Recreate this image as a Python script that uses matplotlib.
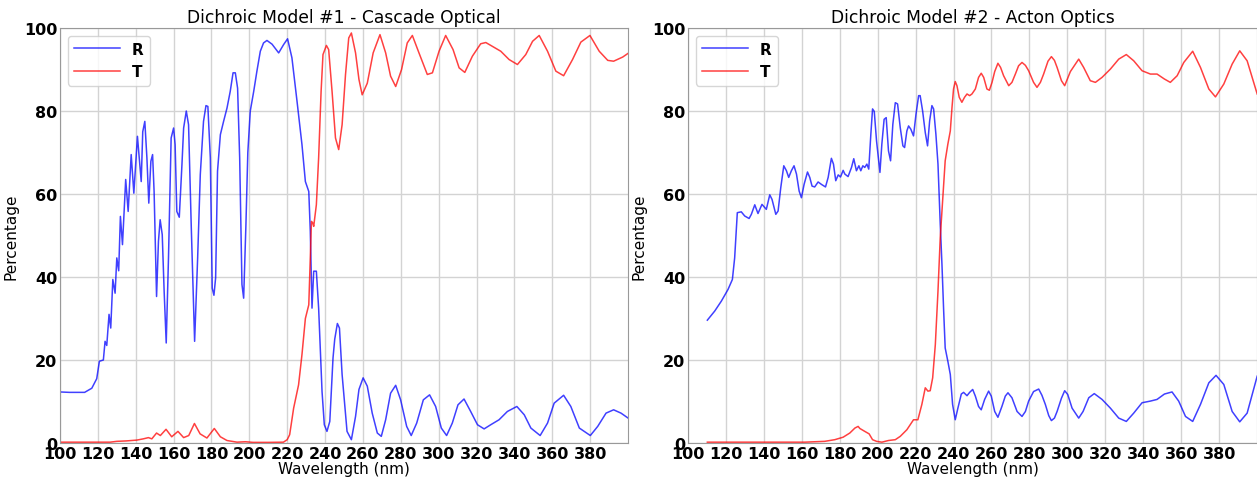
import numpy as np
import matplotlib
matplotlib.use('Agg')
import matplotlib.pyplot as plt

# (wavelength nm, percent) samples of each measured curve

# Model 1 - Cascade Optical, reflectance
r1_pts = [
    (100, 12.3), (105, 12.2), (110, 12.2), (113, 12.2), (116.8, 13.2), (119.4, 15.5), (120.8, 19.7),
    (122.9, 20), (123.8, 24.5), (124.7, 23.5), (125.9, 31), (126.8, 27.7), (127.9, 39.4), (129.1, 36.1),
    (130, 44.6), (131, 41.5), (131.9, 54.6), (133, 47.8), (134.7, 63.5), (136, 55.8), (137.6, 69.5),
    (139, 60.2), (140.9, 73.9), (142.9, 63), (143.7, 75), (144.8, 77.5), (145.9, 68.7), (146.9, 57.8),
    (148, 67.9), (148.9, 69.5), (149.7, 60.6), (151, 35.3), (152, 48.6), (152.9, 53.8), (154, 50.2),
    (155, 36.6), (156.1, 24.1), (157.3, 44.6), (158.7, 73.5), (160, 75.9), (160.8, 71.9), (161.7, 55.8),
    (163, 54.4), (164.4, 67), (165.3, 75.9), (166.7, 80), (167.9, 76.7), (169.3, 52.6), (171.1, 24.5),
    (172.7, 44.6), (174.1, 64.7), (175.8, 77.5), (177.1, 81.3), (178.1, 81.1), (179.4, 68.7),
    (180.4, 37.3), (181.3, 35.6), (182.2, 39.8), (183.2, 65.5), (184.7, 74.3), (186.4, 77.5),
    (188.2, 80.7), (189.9, 84.7), (191.4, 89.2), (192.6, 89.2), (193.8, 85.5), (194.9, 68.7),
    (196.1, 38.2), (197, 34.9), (198.2, 52.6), (199.2, 70), (200.5, 80), (202.3, 84.7), (204, 89.6),
    (205.8, 94.4), (207.5, 96.4), (209.3, 97), (212, 96.1), (215.5, 94), (218.1, 96), (220.2, 97.4),
    (222.5, 92.8), (225.2, 82.3), (227.8, 71.9), (229.6, 63), (231.4, 60.6), (232.2, 51), (233.1, 32.5),
    (234, 41.4), (235.4, 41.4), (236.6, 32.5), (238.4, 12.4), (239.6, 4.4), (241, 2.8), (242.5, 5.2),
    (244.2, 20.5), (245.1, 25), (246.5, 28.8), (247.6, 27.7), (249, 16.5), (251.6, 2.8), (253.9, 0.8),
    (256.1, 6.4), (257.9, 12.9), (260.1, 15.7), (262.3, 13.7), (264.9, 7.2), (267.6, 2.4), (269.7, 1.6),
    (272, 5.6), (274.6, 12), (277.3, 13.9), (279.9, 10.4), (283.1, 4), (285.5, 1.8), (288.4, 4.8),
    (291.9, 10.4), (295.2, 11.6), (298.4, 8.8), (301.4, 3.6), (304.2, 1.8), (307.2, 4.8), (310.2, 9.2),
    (313.4, 10.6), (316.9, 7.6), (320.5, 4.4), (324, 3.4), (327.5, 4.4), (331.9, 5.6), (336.3, 7.6),
    (341.3, 8.8), (345.2, 6.8), (348.7, 3.6), (353.6, 1.8), (357.5, 4.8), (361, 9.6), (366, 11.5),
    (369.8, 8.8), (374.3, 3.6), (380.1, 1.8), (384, 4), (388.4, 7.2), (392.4, 8), (396.3, 7.2),
    (400.7, 5.8),
]

# Model 1 - Cascade Optical, transmittance
t1_pts = [
    (100, 0.2), (126.5, 0.2), (130, 0.4), (135, 0.5), (140.6, 0.7), (144, 1), (146.7, 1.3), (148.5, 1.0),
    (151, 2.4), (153, 1.8), (156, 3.3), (159, 1.5), (162.3, 2.8), (165.3, 1.3), (168, 1.8), (171, 4.7),
    (174, 2.2), (177.6, 1.2), (181.5, 3.5), (184.7, 1.5), (188.2, 0.6), (193.5, 0.2), (197.9, 0.3),
    (202, 0.15), (210, 0.15), (218, 0.2), (220, 0.8), (221.3, 2), (223.4, 8.4), (226, 14), (227.8, 21.3),
    (229.6, 30), (231.4, 33.3), (232.2, 44.6), (232.8, 53.4), (233.5, 53), (234, 52.2), (235.4, 57.4),
    (236.6, 68.7), (237.9, 84.7), (238.9, 93.6), (240.7, 95.8), (241.9, 94.8), (243.7, 84.7),
    (245.5, 73.5), (247.2, 70.7), (249, 76.7), (250.8, 88.8), (252.5, 97.6), (253.9, 98.8),
    (256.1, 94), (257.9, 87.6), (259.6, 83.9), (262.3, 86.7), (265.4, 94), (269, 98.4), (272, 94),
    (274.6, 88.4), (277.3, 85.9), (280.4, 90), (283.4, 96.4), (286.1, 98.2), (289.6, 94), (294, 88.8),
    (296.7, 89.2), (300.2, 94.4), (303.7, 98.2), (307.6, 94.8), (310.8, 90.4), (313.8, 89.3),
    (317.8, 93.2), (322.2, 96.2), (324.9, 96.5), (332.8, 94.4), (337.2, 92.4), (341.6, 91.2),
    (346, 93.6), (349.6, 96.8), (353.1, 98.2), (357.5, 94.4), (361.9, 89.6), (366, 88.5), (370.7, 92.4),
    (375.1, 96.6), (379.9, 98.2), (384.8, 94.4), (389.3, 92.2), (392.4, 92), (397.2, 93), (400.7, 94.1),
]

# Model 2 - Acton Optics, reflectance
r2_pts = [
    (110.2, 29.6), (114.1, 31.8), (117.6, 34.2), (121.1, 37), (123.4, 39.4), (124.6, 44.6), (126, 55.5),
    (128.1, 55.7), (129.9, 54.7), (132.2, 54.1), (133.4, 55.1), (135.2, 57.4), (136.9, 55.3),
    (139, 57.5), (141.3, 56.3), (143.1, 59.8), (144.3, 58.7), (146.3, 55.1), (147.5, 55.9),
    (148.9, 61.5), (150.5, 66.8), (151.9, 65.6), (153.1, 64), (154.5, 65.6), (155.9, 66.8),
    (157.2, 64.8), (158.6, 60.7), (159.8, 59.1), (161.2, 62.3), (163, 65.3), (164.2, 64),
    (165.4, 61.9), (166.8, 61.7), (168.6, 62.9), (170.4, 62.3), (172.5, 61.7), (173.9, 64),
    (175.6, 68.6), (176.7, 67.2), (177.9, 63.2), (179.2, 64.6), (180.4, 64.1), (181.8, 65.7),
    (182.7, 64.8), (184.4, 64.2), (186.2, 66.4), (187.4, 68.5), (188.8, 65.6), (190.1, 66.8),
    (191.1, 65.6), (192.2, 66.8), (193.2, 66.4), (194.3, 67.2), (195.3, 66), (196.4, 74.4),
    (197.3, 80.5), (198.2, 79.9), (199.4, 72.8), (201.2, 65.2), (202.2, 72), (203.4, 78),
    (204.5, 78.4), (205.7, 70.4), (206.8, 68), (208, 76.8), (209.3, 82), (210.5, 81.7), (211.9, 76),
    (213.3, 71.6), (214.2, 71.2), (215.4, 75.2), (216.3, 76.4), (217.5, 75.6), (218.9, 74),
    (220.2, 79.2), (221.6, 83.7), (222.4, 83.7), (223.7, 80), (225.1, 74.8), (226.3, 71.6),
    (227.4, 77.6), (228.6, 81.3), (229.5, 80.5), (230.7, 74.4), (231.8, 67.2), (233, 52.7),
    (233.9, 43), (234.8, 31.8), (235.6, 22.9), (237, 19.7), (238.3, 16.5), (239.5, 9.3), (240.9, 5.6),
    (242.3, 8.4), (244.1, 11.8), (245.3, 12.2), (247.1, 11.4), (248.5, 12.2), (250.1, 12.9),
    (251.5, 11.3), (253.2, 8.8), (254.6, 8), (256.4, 10.5), (258.5, 12.5), (259.9, 11.3),
    (261.7, 7.6), (263.4, 6.2), (265.5, 8.8), (267.3, 11.3), (268.7, 12.1), (270.8, 10.9),
    (273.5, 7.6), (276.1, 6.4), (277.9, 7.6), (279.6, 10.1), (282.2, 12.4), (284.9, 13), (286.6, 11.5),
    (288.4, 9.3), (290.2, 6.6), (291.6, 5.4), (293.2, 6), (294.6, 7.6), (296.9, 10.8), (298.6, 12.6),
    (300.2, 11.7), (302.5, 8.4), (306, 6), (308.3, 7.6), (311.3, 10.9), (314.2, 11.9), (318.3, 10.5),
    (322.7, 8.4), (327.1, 6), (331.1, 5.2), (335, 7.2), (339.4, 9.7), (343.8, 10.1), (347.3, 10.5),
    (351.2, 11.8), (355.2, 12.3), (358.7, 10.1), (362.3, 6.4), (366.1, 5.2), (370.2, 9.3),
    (374.6, 14.5), (378.4, 16.3), (382.5, 14.1), (386.9, 7.6), (390.9, 5.1), (394.8, 7.2),
    (400.1, 16.1),
]

# Model 2 - Acton Optics, transmittance
t2_pts = [
    (110.2, 0.2), (140, 0.2), (161.6, 0.2), (172.1, 0.4), (177.4, 0.8), (181.8, 1.4), (185.3, 2.4),
    (188, 3.6), (189.7, 4), (190.6, 3.5), (193.2, 2.8), (195.5, 2.2), (197.3, 0.8), (199.4, 0.4),
    (202.2, 0.2), (205.7, 0.6), (209.3, 0.8), (211.9, 1.6), (215.4, 3.2), (218.9, 5.6), (221.2, 5.6),
    (223.3, 9.3), (225.1, 13.3), (226.5, 12.5), (227.7, 12.6), (229, 15.7), (230.4, 23.7),
    (231.8, 36.6), (233, 49.5), (233.9, 55.9), (234.8, 62.3), (235.6, 68), (237, 72), (238.3, 75.2),
    (239.2, 80.9), (240, 85.3), (240.9, 87.1), (241.8, 86.1), (243, 83.3), (244.4, 82.1),
    (245.8, 83.3), (247.1, 84.1), (248.5, 83.7), (249.7, 84.1), (251.5, 85.3), (253.2, 88.1),
    (254.6, 89.1), (255.9, 88.1), (257.6, 85.3), (258.9, 85), (260.3, 86.9), (261.7, 89.5),
    (263.4, 91.5), (264.8, 90.5), (266.4, 88.5), (269.1, 86.1), (270.8, 86.9), (272.6, 88.9),
    (274.3, 90.9), (276.1, 91.7), (277.9, 91), (279.6, 89.7), (282.2, 86.9), (284, 85.7),
    (285.8, 86.9), (287.5, 88.9), (289.8, 92), (291.6, 93.1), (293.2, 92.2), (294.6, 90.5),
    (296.9, 87.3), (298.6, 86.1), (301.6, 89.5), (306, 92.5), (308.6, 90.5), (312.1, 87.3),
    (314.8, 86.9), (318.3, 88.1), (322.7, 90.1), (327.1, 92.5), (331.1, 93.6), (335, 92.1),
    (339.4, 89.7), (343.8, 88.9), (347.3, 88.9), (351.2, 87.7), (354.3, 86.9), (357.9, 88.5),
    (361.4, 91.7), (366.1, 94.4), (370.2, 90.5), (374.6, 85.3), (378.1, 83.4), (382.5, 86.5),
    (386.9, 91.3), (390.9, 94.5), (394.8, 92.1), (400.1, 84.1),
]

titles = ['Dichroic Model #1 - Cascade Optical', 'Dichroic Model #2 - Acton Optics']
panels = [(r1_pts, t1_pts), (r2_pts, t2_pts)]

fig = plt.figure(figsize=(12.57, 4.81), dpi=100)
axes = [fig.add_axes([60 / 1257, 37 / 481, 568 / 1257, 415 / 481]),
        fig.add_axes([688 / 1257, 37 / 481, 569 / 1257, 415 / 481])]

for ax, title, (r_pts, t_pts) in zip(axes, titles, panels):
    wl_r, r = zip(*r_pts)
    wl_t, t = zip(*t_pts)
    ax.plot(wl_r, r, color='b', alpha=0.75, lw=1.1, label='R')
    ax.plot(wl_t, t, color='r', alpha=0.75, lw=1.1, label='T')
    ax.set_xlim(100, 400)
    ax.set_ylim(0, 100)
    ax.set_xticks(np.arange(100, 400, 20))
    ax.set_yticks(np.arange(0, 101, 20))
    ax.grid(True, color='#d3d3d3', lw=1.0)
    ax.set_axisbelow(True)
    for s in ax.spines.values():
        s.set_color('#999999')
    ax.tick_params(length=0, pad=2, labelsize=11.5)
    for lab in ax.get_xticklabels() + ax.get_yticklabels():
        lab.set_fontweight('bold')
    ax.set_title(title, fontsize=12.3, pad=4)
    ax.set_xlabel('Wavelength (nm)', fontsize=11, labelpad=0)
    ax.set_ylabel('Percentage', fontsize=11)
    ax.legend(loc='upper left', prop={'weight': 'bold', 'size': 11}, handlelength=3)

fig.savefig('out.png', dpi=100)
